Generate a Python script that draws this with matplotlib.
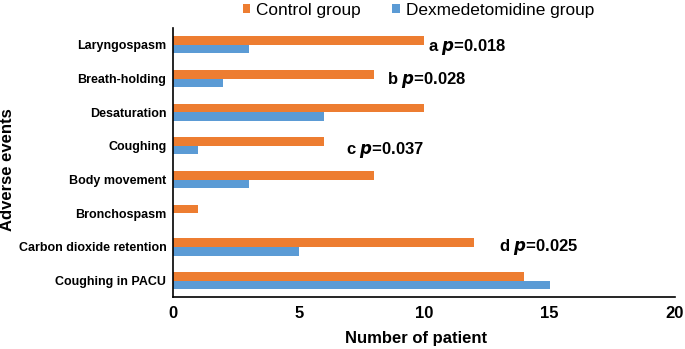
import numpy as np
import matplotlib
matplotlib.use("Agg")
import matplotlib.pyplot as plt

# adverse events, top to bottom
events = ["Laryngospasm", "Breath-holding", "Desaturation", "Coughing",
          "Body movement", "Bronchospasm", "Carbon dioxide retention", "Coughing in PACU"]
control = [10, 8, 10, 6, 8, 1, 12, 14]
dex = [3, 2, 6, 1, 3, 0, 5, 15]
xticks = [0, 5, 10, 15, 20]

# p-value notes: (letter, p, event index)
notes = [("a", "0.018", 0), ("b", "0.028", 1), ("c", "0.037", 3), ("d", "0.025", 6)]
note_x = [10.15, 8.5, 6.9, 13.0]
note_dy = [0.06, 0.04, 0.12, 0.0]

plt.rcParams["font.family"] = ["Liberation Sans", "DejaVu Sans"]

fig = plt.figure(figsize=(6.85, 3.49), dpi=100)
ax = fig.add_axes([0.253, 0.1476, 0.7324, 0.7722])

y = np.arange(len(events))
h = 0.255
ax.barh(y - h / 2, control, height=h, color="#ED7D31", label="Control group")
ax.barh(y + h / 2, dex, height=h, color="#5B9BD5", label="Dexmedetomidine group")

ax.set_xlim(0, 20)
ax.set_ylim(len(events) - 0.5, -0.5)
ax.set_xticks(xticks)
ax.set_xticklabels([str(t) for t in xticks], fontsize=12, fontweight="bold")
ax.set_yticks(y)
ax.set_yticklabels(events, fontsize=9, fontweight="bold")
ax.tick_params(length=0, pad=5)
ax.tick_params(axis="x", pad=6)

for s in ["top", "right"]:
    ax.spines[s].set_visible(False)
for s in ["left", "bottom"]:
    ax.spines[s].set_linewidth(1.2)
    ax.spines[s].set_color("black")

ax.set_xlabel("Number of patient", fontsize=12, fontweight="bold")
ax.xaxis.set_label_coords(0.484, -0.125)
ax.set_ylabel("Adverse events", fontsize=12, fontweight="bold")
ax.yaxis.set_label_coords(-0.316, 0.473)

for (letter, p, idx), nx, dy in zip(notes, note_x, note_dy):
    ax.text(nx, idx + dy, letter + r" $\boldsymbol{p}$=" + p, fontsize=12,
            fontweight="bold", va="center", ha="left")

fig.legend(loc="center", bbox_to_anchor=(0.611, 0.971), ncol=2, frameon=False,
           handlelength=0.45, handleheight=0.5, handletextpad=0.35, columnspacing=1.8,
           prop={"size": 12.4})

fig.savefig("out.png", dpi=100)
